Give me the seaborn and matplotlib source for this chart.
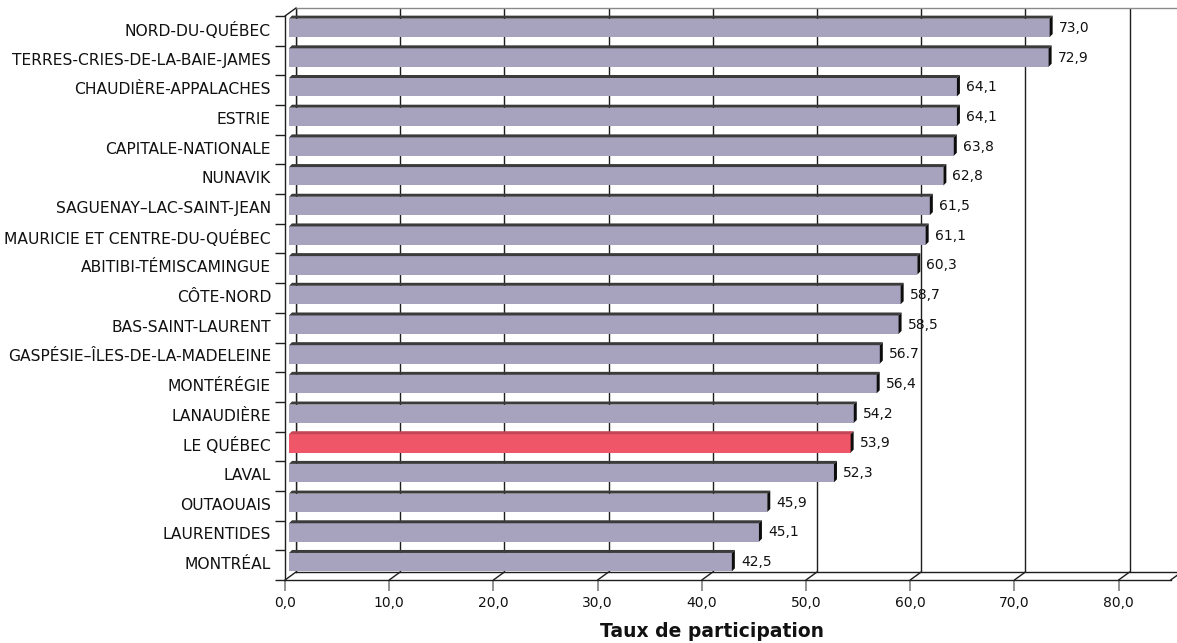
import matplotlib
matplotlib.use("Agg")
import matplotlib.pyplot as plt
import seaborn as sns
from matplotlib.patches import Polygon
from matplotlib.lines import Line2D
from matplotlib.transforms import ScaledTranslation

# Taux de participation par région
regions = [
    "NORD-DU-QUÉBEC",
    "TERRES-CRIES-DE-LA-BAIE-JAMES",
    "CHAUDIÈRE-APPALACHES",
    "ESTRIE",
    "CAPITALE-NATIONALE",
    "NUNAVIK",
    "SAGUENAY–LAC-SAINT-JEAN",
    "MAURICIE ET CENTRE-DU-QUÉBEC",
    "ABITIBI-TÉMISCAMINGUE",
    "CÔTE-NORD",
    "BAS-SAINT-LAURENT",
    "GASPÉSIE–ÎLES-DE-LA-MADELEINE",
    "MONTÉRÉGIE",
    "LANAUDIÈRE",
    "LE QUÉBEC",
    "LAVAL",
    "OUTAOUAIS",
    "LAURENTIDES",
    "MONTRÉAL",
]
taux = [73.0, 72.9, 64.1, 64.1, 63.8, 62.8, 61.5, 61.1, 60.3, 58.7,
        58.5, 56.7, 56.4, 54.2, 53.9, 52.3, 45.9, 45.1, 42.5]
value_labels = ["73,0", "72,9", "64,1", "64,1", "63,8", "62,8", "61,5", "61,1",
                "60,3", "58,7", "58,5", "56.7", "56,4", "54,2", "53,9", "52,3",
                "45,9", "45,1", "42,5"]
x_ticks = [0, 10, 20, 30, 40, 50, 60, 70, 80]
x_tick_labels = ["0,0", "10,0", "20,0", "30,0", "40,0", "50,0", "60,0", "70,0", "80,0"]
highlight = "LE QUÉBEC"

BAR_COLOR = "#A7A2BE"
BAR_TOP = "#3b3b3b"
HIGHLIGHT_COLOR = "#EF5667"
HIGHLIGHT_TOP = "#C44555"
SIDE_COLOR = "#0d0d0d"

sns.set_theme(style="white")
plt.rcParams["font.family"] = ["Liberation Sans Narrow", "DejaVu Sans"]

W, H = 1177, 643
fig = plt.figure(figsize=(W / 100, H / 100), dpi=100)

# Pseudo-3D geometry (pixels): bar plane, with front and back planes offset
X0, TOP, PW, PH = 289, 13, 885.7, 564
XMAX = 85.0
N = len(regions)
FRONT = (-4, 3)
BACK = (7, -5)
DEPTH = (3, 3)   # visible depth of bars (right, up)


def plane(dx, dy, z):
    left, top = X0 + dx, TOP + dy
    ax = fig.add_axes([left / W, 1 - (top + PH) / H, PW / W, PH / H], zorder=z)
    ax.set_xlim(0, XMAX)
    ax.set_ylim(N - 0.5, -0.5)
    ax.patch.set_alpha(0)
    return ax


# back wall with gridlines
ax_back = plane(*BACK, 0)
ax_back.set_xticks(x_ticks)
ax_back.set_yticks([])
ax_back.xaxis.grid(True, color="#1e1e1e", lw=1.0)
ax_back.tick_params(axis="x", length=0, labelbottom=False)
for side in ("left", "bottom"):
    ax_back.spines[side].set_color("#1e1e1e")
    ax_back.spines[side].set_linewidth(1.0)
ax_back.spines["top"].set_color("#8a8a8a")
ax_back.spines["top"].set_linewidth(1.0)
ax_back.spines["right"].set_visible(False)

# bars
ax_bar = plane(0, 0, 1)
palette = {r: (HIGHLIGHT_COLOR if r == highlight else BAR_COLOR) for r in regions}
sns.barplot(x=taux, y=regions, hue=regions, palette=palette, orient="h",
            width=0.62, legend=False, ax=ax_bar, saturation=1, linewidth=0)
ax_bar.set_xlim(0, XMAX)
ax_bar.set_ylim(N - 0.5, -0.5)
ax_bar.axis("off")

ux = XMAX / PW       # data units per pixel
uy = N / PH
ddx, ddy = DEPTH[0] * ux, DEPTH[1] * uy
half = 0.31
for i, (r, v) in enumerate(zip(regions, taux)):
    y_top, y_bot = i - half, i + half
    top_col = HIGHLIGHT_TOP if r == highlight else BAR_TOP
    ax_bar.add_patch(Polygon([(0, y_top), (v, y_top), (v + ddx, y_top - ddy), (ddx, y_top - ddy)],
                             closed=True, fc=top_col, ec="none", clip_on=False))
    ax_bar.add_patch(Polygon([(v, y_top), (v, y_bot), (v + ddx, y_bot - ddy), (v + ddx, y_top - ddy)],
                             closed=True, fc=SIDE_COLOR, ec="none", clip_on=False))
    ax_bar.annotate(value_labels[i], xy=(v, i), xytext=(6.5, 0), textcoords="offset points",
                    ha="left", va="center", fontsize=10, color="#111111")

# front plane: axes, ticks and labels
ax_front = plane(*FRONT, 2)
for side in ("top", "right"):
    ax_front.spines[side].set_visible(False)
for side in ("left", "bottom"):
    ax_front.spines[side].set_color("#1e1e1e")
    ax_front.spines[side].set_linewidth(1.0)
ax_front.set_xticks(x_ticks, x_tick_labels)
ax_front.tick_params(axis="x", length=8, width=1.2, color="#808080", pad=3.5,
                     labelsize=10, labelcolor="#111111", bottom=True)
ax_front.set_yticks(range(N), regions)
ax_front.set_yticks([k - 0.5 for k in range(N + 1)], minor=True)
ax_front.tick_params(axis="y", which="major", length=0, pad=10, labelsize=11.2,
                     labelcolor="#111111")
ax_front.tick_params(axis="y", which="minor", length=7, width=1, color="#1e1e1e", left=True)
lift = ScaledTranslation(0, 2 / 100, fig.dpi_scale_trans)
for lab in ax_front.get_yticklabels():
    lab.set_transform(lab.get_transform() + lift)
ax_front.set_xlabel("Taux de participation", fontsize=13.5, fontweight="bold",
                    color="#111111", x=0.482, labelpad=9)

# depth edges joining the front and back planes
fig.canvas.draw()
inv = fig.transFigure.inverted()


def join(x, y):
    p1 = ax_front.transData.transform((x, y))
    p2 = ax_back.transData.transform((x, y))
    (a, b), (c, d) = inv.transform(p1), inv.transform(p2)
    fig.add_artist(Line2D([a, c], [b, d], transform=fig.transFigure,
                          color="#1e1e1e", lw=1.0, zorder=3))


for t in x_ticks:
    join(t, N - 0.5)
join(XMAX, N - 0.5)
join(0, -0.5)

fig.savefig("out.png", dpi=100)
